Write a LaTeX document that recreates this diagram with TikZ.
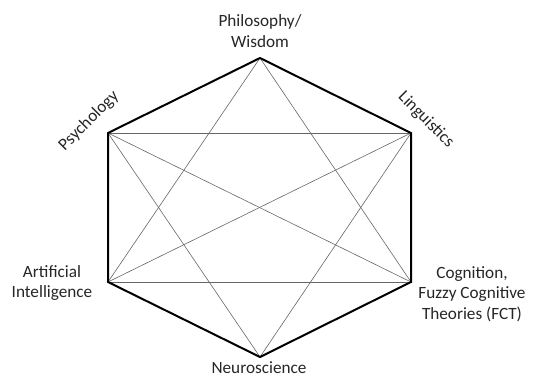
\documentclass[tikz,border=0pt]{standalone}
\usepackage{fontspec}
\setmainfont{Carlito}
\tikzset{
  edge/.style={line width=2pt, black, line join=miter},
  chord/.style={line width=0.6pt, black!60},
  lbl/.style={font=\fontsize{17.2}{20.5}\selectfont, align=center, inner sep=0pt, text=black!85}
}
\begin{document}
\begin{tikzpicture}[x=1pt,y=-1pt]
\useasboundingbox (0,0) rectangle (533,378);
\coordinate (T) at (260,58);
\coordinate (UR) at (411,133);
\coordinate (LR) at (411,282);
\coordinate (B) at (260,357);
\coordinate (LL) at (108,282);
\coordinate (UL) at (108,133);
% chords
\draw[chord] (T) -- (LL);
\draw[chord] (T) -- (LR);
\draw[chord] (UL) -- (UR);
\draw[chord] (UL) -- (LR);
\draw[chord] (UL) -- (B);
\draw[chord] (UR) -- (LL);
\draw[chord] (UR) -- (B);
\draw[chord] (LL) -- (LR);
% hexagon
\draw[edge] (T) -- (UR) -- (LR) -- (B) -- (LL) -- (UL) -- cycle;
% labels
\node[lbl] (phil) at (260,31) {Philosophy/\\Wisdom};
\node[lbl, rotate=45] (psy) at (89,121) {Psychology};
\node[lbl, rotate=-45] (ling) at (426,120) {Linguistics};
\node[lbl] (ai) at (52,283) {Artificial\\Intelligence};
\node[lbl] (cog) at (472,294) {Cognition,\\Fuzzy Cognitive\\Theories (FCT)};
\node[lbl] (neuro) at (259,368) {Neuroscience};
\end{tikzpicture}
\end{document}
